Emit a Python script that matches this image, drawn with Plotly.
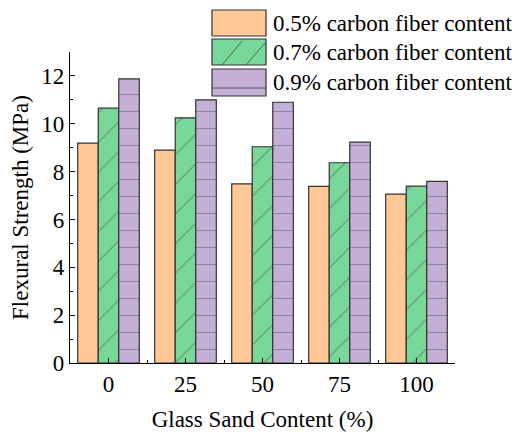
import plotly.graph_objects as go

categories = ["0", "25", "50", "75", "100"]
series_names = ["0.5% carbon fiber content", "0.7% carbon fiber content", "0.9% carbon fiber content"]
cf05 = [9.19, 8.90, 7.49, 7.38, 7.06]
cf07 = [10.65, 10.25, 9.04, 8.37, 7.39]
cf09 = [11.88, 11.00, 10.90, 9.23, 7.59]

colors = ["#FFC896", "#78D89A", "#C4B0D6"]
shapes_pat = ["", "/", "-"]
FONT = "Liberation Serif"
FS = 23
OFF = 8  # default page body margin
W, H = 523 - OFF, 432 - OFF
L, R, T, B = 70 - OFF, 68, 52 - OFF, 69

fig = go.Figure()
xs = list(range(len(categories)))
for name, vals, col, pat in zip(series_names, [cf05, cf07, cf09], colors, shapes_pat):
    fig.add_trace(go.Bar(
        x=xs, y=vals, name=name,
        marker=dict(color=col, line=dict(color="#333333", width=1.2),
                    pattern=dict(shape=pat, fgcolor="#444444", size=17 if pat == "-" else 21,
                                 solidity=0.05, fillmode="overlay")),
        showlegend=False,
    ))

# manual legend (page pixel -> paper helpers)
pw, ph = W - L - R, H - T - B
def px(x):
    return (x - OFF - L) / pw
def py(y):
    return (H - B - (y - OFF)) / ph

boxes = [(10, 36), (39, 65), (69, 96)]
shapes = []
annotations = []
for i, ((y0, y1), col, name) in enumerate(zip(boxes, colors, series_names)):
    shapes.append(dict(type="rect", xref="paper", yref="paper", x0=px(212), x1=px(266),
                       y0=py(y1), y1=py(y0), fillcolor=col,
                       line=dict(color="#333333", width=1.2), layer="above"))
    annotations.append(dict(text=name, xref="paper", yref="paper", x=px(271), y=py((y0 + y1) / 2),
                            xanchor="left", yanchor="middle", showarrow=False,
                            font=dict(family=FONT, size=FS, color="black")))
# hatch lines in legend boxes
for (xa, ya, xb, yb) in [(222, 65, 242, 41), (246, 65, 265, 43)]:
    shapes.append(dict(type="line", xref="paper", yref="paper", x0=px(xa), y0=py(ya), x1=px(xb), y1=py(yb),
                       line=dict(color="#444444", width=0.8), layer="above"))
shapes.append(dict(type="line", xref="paper", yref="paper", x0=px(212), y0=py(88), x1=px(266), y1=py(88),
                   line=dict(color="#444444", width=0.8), layer="above"))

fig.update_layout(
    width=W, height=H,
    margin=dict(l=L, r=R, t=T, b=B, pad=0),
    paper_bgcolor="white", plot_bgcolor="white",
    barmode="group", bargap=0.2, bargroupgap=0,
    font=dict(family=FONT, size=FS, color="black"),
    shapes=shapes, annotations=annotations,
    xaxis=dict(range=[-0.5, 4.5], tickmode="array", tickvals=xs, ticktext=categories,
               showline=True, linecolor="black", linewidth=1.2, ticks="inside", ticklen=5,
               tickcolor="black", showgrid=False, zeroline=False, automargin=False,
               minor=dict(tickmode="array", tickvals=[-0.5, 0.5, 1.5, 2.5, 3.5, 4.5],
                          ticks="inside", ticklen=3, tickcolor="black"),
               title=dict(text="Glass Sand Content (%)", font=dict(size=FS), standoff=16),
               tickfont=dict(size=FS)),
    yaxis=dict(range=[0, 13], tickmode="linear", tick0=0, dtick=2,
               showline=True, linecolor="black", linewidth=1.2, ticks="inside", ticklen=5,
               tickcolor="black", showgrid=False, zeroline=False, automargin=False,
               minor=dict(dtick=1, ticks="inside", ticklen=3, tickcolor="black"),
               title=dict(text="Flexural Strength (MPa)", font=dict(size=FS), standoff=8),
               tickfont=dict(size=FS)),
)

fig.write_html("out.html")
